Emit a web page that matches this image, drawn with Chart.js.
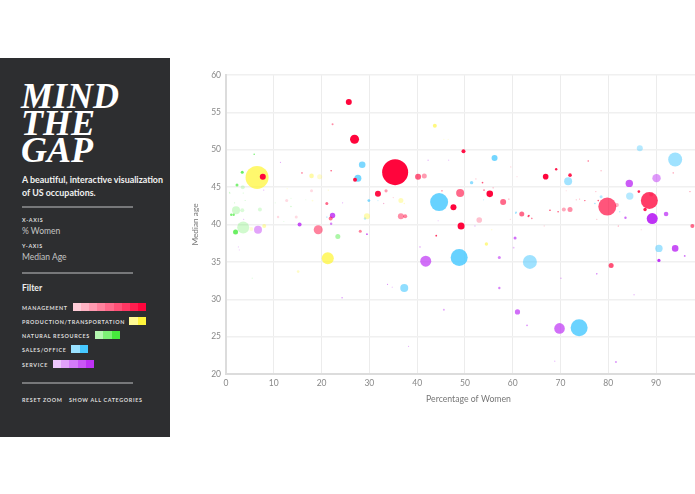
<!DOCTYPE html>
<html>
<head>
<meta charset="utf-8">
<title>Mind the Gap</title>
<script src="https://cdn.jsdelivr.net/npm/chart.js@4"></script>
<style>
html, body { margin: 0; padding: 0; width: 695px; height: 494px; overflow: hidden; background: #fff; font-family: Lato, sans-serif; }
#side { position: absolute; left: 0; top: 58px; width: 170px; height: 379px; background: #2d2e30; color: #fff; }
#side div { position: absolute; white-space: nowrap; }
.mast { left: 21px; font: italic 700 36px/27px "Liberation Serif", serif; }
.sub { left: 22px; font-size: 8.9px; font-weight: 700; color: #f2f2f2; line-height: 13px; }
.rule { left: 22px; width: 111px; height: 1.5px; background: #77787a; }
.cap { left: 22px; font-size: 5.4px; font-weight: 700; letter-spacing: 0.65px; color: #ddd; line-height: 8px; }
.val { left: 22px; font-size: 8.5px; font-weight: 400; color: #c4c4c4; line-height: 12px; }
.filter { left: 22px; font-size: 8.6px; font-weight: 700; color: #eee; line-height: 13px; }
.swatch { height: 8px; display: flex; background: #fff; }
.swatch span { flex: 1; }
#chartWrap { position: absolute; left: 190px; top: 60px; width: 521px; height: 355px; }
</style>
</head>
<body>
<div id="side"></div>
<div id="chartWrap"><canvas id="gapChart" width="521" height="355"></canvas></div>
<script>
// category names and the colour ramp used for each
const categoryNames = ['Management', 'Production/Transportation', 'Natural Resources', 'Sales/Office', 'Service'];
const categoryRgb = ['255,5,60', '255,245,60', '70,235,60', '70,200,255', '190,50,245'];
const swatchSteps = [9, 2, 3, 2, 5];

const xTickValues = [0, 10, 20, 30, 40, 50, 60, 70, 80, 90];
const yTickValues = [20, 25, 30, 35, 40, 45, 50, 55, 60];

// [% women, median age, size, shade]
const managementPoints = [
  [25.7,56.4,3,1],[26.9,51.4,4.5,1],[35.4,47,13,1],[37.4,47.2,3,.3],[7.7,46.4,3,1],[27,46,2,.95],[31.8,44.1,3,.95],
  [40.2,46.4,3,.65],[41.5,46.5,2.5,.4],[49.7,49.8,2,.95],[47.6,42.3,3,1],[49,44.2,4,.6],[55.2,44.1,3.3,1],[58,43,3,.6],
  [49.2,39.8,3.5,1],[53,40.6,2.8,.25],[36.6,41.1,3,.45],[37.5,41.1,2,.5],[33.5,44.5,1.6,.4],[28.1,39.1,1.5,.5],
  [61.9,41.4,2.5,.6],[66.9,46.4,2.8,1],[69.1,47.4,1.2,.9],[72,46.6,1.8,.9],[75.8,48.5,.7,.7],[79.8,42.4,9,.68],
  [81.8,42.6,2,.3],[88.6,43.2,8.5,.78],[89,44,2,.3],[87.7,42,1.7,.9],[86.4,44.4,1.3,.9],[70.7,42,2,.35],[72,42,2.5,.45],
  [97.6,39.8,2,.6],[67.8,41.9,.8,.8],[69.5,41.7,.8,.7],[63.4,41.2,.8,.7],[75.1,43.2,.7,.7],[77.9,43.2,.8,.7],
  [80.6,34.5,2.5,.7],[93.6,46.9,.8,.3],[97.1,44.4,.6,.5],[21.1,42.8,1.5,.6],[21.9,40.8,2,.55],[19.3,39.3,4.5,.5],
  [15.9,46.9,.7,.8],[22,47.2,.7,.8],[44,38.5,.9,.8],[63.3,41.1,1,.7],[64,40.8,.8,.5],[53.7,45.6,.8,.6],[54,44.6,.9,.5],
  [45.2,44.5,.7,.7],[22.3,53.4,1,.45],[12.7,43.2,1.5,.15],[17.9,44.5,1.5,.15],[14.7,41,1.5,.15],[10.9,41,1.2,.15],
  [52.3,46.1,.6,.25],[53.6,45.6,.6,.3],[55.9,44.9,.6,.4],[59.6,47.7,.6,.2],[60.9,46.4,.6,.15],[59.2,43.4,.7,.4],
  [59.5,40.7,.6,.2],[73.3,43.3,.6,.3],[74,43.4,.6,.3],[77.4,44.4,.6,.3],[78.5,47.2,.8,.25],[71.2,44.5,.5,.2],
  [77.6,40.7,.6,.3],[82.1,39.8,.6,.5],[66.6,39.8,.7,.15],[64,40.9,.5,.2],[86.9,39.3,.6,.2],[33,42.8,.7,.2],[35,43.6,.6,.2]
];

const productionPoints = [
  [6.5,46.3,11.5,.75],[21.3,35.5,6,.75],[43.7,53.2,2,.65],[17.9,46.5,2.3,.45],[19.6,46.4,2.5,.25],[8,39.8,2,.4],
  [36.6,43.2,2.5,.35],[29.5,41.1,3,.4],[54.5,37.4,1.7,.6],[15.1,33.7,1.3,.3],[5.3,39.4,2,.2],[18.1,43.2,.9,.2],
  [37.3,42.8,.7,.3],[55.6,39.3,.8,.2],[45.6,51.4,.6,.2],[46.5,51.4,.6,.2],[21.4,44.6,.6,.3],[12.8,44.8,.6,.2]
];

const naturalPoints = [
  [5.9,49.4,.8,.7],[3.4,47,1.5,.8],[2.3,45.3,1.5,.7],[3.5,45,2,.2],[2.1,41.9,4,.25],[3.4,41.9,2,.2],[7.1,42,2,.2],
  [1.1,41.3,1.2,.7],[1.6,41.3,1.2,.7],[3.6,39.6,6,.25],[2,39,2.5,.8],[23.4,38.4,2.5,.45],[.8,44.2,.7,.3],
  [3.6,44.2,.5,.3],[.7,44.3,.5,.3],[4,43.2,.5,.3],[1.8,42.9,.6,.25],[10.3,42.9,.6,.15],[13.6,42.4,.8,.25],
  [13.6,43.5,.5,.2],[16.7,43.3,.5,.15],[12.1,40.4,.6,.15],[5.5,32.8,.7,.15]
];

const salesPoints = [
  [28.5,48,3.3,.7],[27.6,46.2,3.5,.75],[44.6,43,9,.82],[56.2,48.9,3,.75],[51.4,45.6,1.7,.6],[29.9,43.2,1.4,.7],
  [71.6,45.8,4,.5],[86.6,50.2,3,.4],[94,48.7,7,.52],[84.5,43.8,3.7,.4],[78.5,43.7,1.5,.4],[48.8,35.6,8.5,.82],
  [37.3,31.5,4,.6],[63.6,35,7,.52],[73.9,26.2,8.5,.8],[90.6,36.8,3.7,.5],[29.1,40.8,1.2,.4],[60.7,41.6,1,.5],
  [77.2,42.8,.8,.5],[21.1,41,.9,.3],[82.4,41.7,.7,.4],[60.6,41.5,.6,.4],[53.9,43.3,.6,.3],[31.8,43.2,.6,.3]
];

const servicePoints = [
  [84.4,45.5,3.7,.8],[90.1,46.2,4.2,.5],[89.2,40.8,5.5,1],[92.1,41.4,2.3,.75],[83.6,40.9,1.2,.7],[94,36.8,3.3,.85],
  [90.6,35.2,1.6,1],[96,35.8,.9,.7],[69.8,26.1,5.3,.7],[61,28.3,2.6,.7],[41.8,35.1,5.5,.7],[57.2,35.6,1.5,.6],
  [57.2,31.5,1.2,.6],[60.5,38.2,1.5,.7],[45.6,28.6,1,.4],[6.7,39.3,4,.45],[22.3,41.2,2.7,.85],[15.4,40,2,.85],
  [22,40.1,1.2,.6],[29.5,38.7,.9,.8],[63,26.5,.8,.6],[77.6,33.4,.8,.6],[70.1,32.8,.7,.4],[81.6,21.6,1,.5],
  [85.4,30.6,.8,.3],[68.8,21.7,.7,.3],[38.2,23.7,.6,.4],[24.3,30.2,.8,.5],[42.3,48.6,.8,.3],[46.6,48.6,.6,.3],
  [40.6,37,.9,.3],[60.2,36.9,.9,.3],[33.8,32,.6,.6],[34.8,31.6,.8,.2],[11.4,48.3,.6,.4],[7.9,44.6,.6,.4],
  [24.4,42.9,.6,.4],[3.7,40.7,.6,.4],[2.6,37,.6,.25],[2.8,36.6,.6,.2],[33,42.8,.5,.25],[44.4,40.5,.6,.3],[52.1,39.8,.7,.35]
];

const seriesPoints = [managementPoints, productionPoints, naturalPoints, salesPoints, servicePoints];

// --- sidebar ---
function addText(cls, left, top, html) {
  const el = document.createElement('div');
  el.className = cls;
  if (left !== null) el.style.left = left + 'px';
  el.style.top = (top - 58) + 'px';
  el.innerHTML = html;
  document.getElementById('side').appendChild(el);
  return el;
}

addText('mast', null, 83, 'MIND');
addText('mast', null, 110, 'THE');
addText('mast', null, 137, 'GAP');
addText('sub', null, 173, 'A beautiful, interactive visualization<br>of US occupations.');
addText('rule', null, 206, '');
addText('cap', null, 216, 'X-AXIS');
addText('val', null, 225, '% Women');
addText('cap', null, 242, 'Y-AXIS');
addText('val', null, 251, 'Median Age');
addText('rule', null, 272, '');
addText('filter', null, 282, 'Filter');
addText('rule', null, 382, '');
addText('cap', 22, 396, 'RESET ZOOM');
addText('cap', 69, 396, 'SHOW ALL CATEGORIES');

const swatchLeft = [73, 129, 95, 71, 53];
const swatchRight = [146, 146, 120, 88, 94];
const rowTop = [303, 317, 331, 345, 360];
categoryNames.forEach((name, i) => {
  addText('cap', 22, rowTop[i] + 0.5, name.toUpperCase());
  const sw = addText('swatch', swatchLeft[i], rowTop[i], '');
  sw.style.width = (swatchRight[i] - swatchLeft[i]) + 'px';
  for (let s = 0; s < swatchSteps[i]; s++) {
    const seg = document.createElement('span');
    seg.style.background = 'rgba(' + categoryRgb[i] + ',' + (0.1 + 0.9 * (s + 1) / swatchSteps[i]) + ')';
    sw.appendChild(seg);
  }
});

// --- chart ---
new Chart(document.getElementById('gapChart'), {
  type: 'bubble',
  data: {
    datasets: seriesPoints.map((pts, i) => ({
      label: categoryNames[i],
      data: pts.map(p => ({ x: p[0], y: p[1], r: p[2], shade: p[3] })),
      borderWidth: 0,
      backgroundColor: ctx => 'rgba(' + categoryRgb[i] + ',' + (ctx.raw ? ctx.raw.shade : 1) + ')'
    }))
  },
  options: {
    responsive: false,
    animation: false,
    events: [],
    layout: { autoPadding: false, padding: { top: 15, right: 0, left: 0, bottom: 0 } },
    plugins: { legend: { display: false }, tooltip: { enabled: false } },
    scales: {
      x: {
        type: 'linear', min: 0, max: 101.5,
        afterBuildTicks: s => { s.ticks = xTickValues.map(v => ({ value: v })); },
        afterFit: s => { s.height = 41; s.paddingLeft = 0; s.paddingRight = 0; },
        grid: { color: '#ececec', drawTicks: false },
        border: { color: '#dcdcdc', width: 2 },
        ticks: { color: '#888', padding: 4, maxRotation: 0, autoSkip: false, font: { family: 'Lato', size: 8.5 } },
        title: { display: true, text: 'Percentage of Women', color: '#777', padding: { top: 5, bottom: 11 }, font: { family: 'Lato', size: 8.7 } }
      },
      y: {
        type: 'linear', min: 20, max: 60,
        afterBuildTicks: s => { s.ticks = yTickValues.map(v => ({ value: v })); },
        afterFit: s => { s.width = 36; s.paddingTop = 0; s.paddingBottom = 0; },
        grid: { color: '#f0f0f0', lineWidth: 1.5, drawTicks: false },
        border: { color: '#dcdcdc', width: 2 },
        ticks: { color: '#888', padding: 5, font: { family: 'Lato', size: 8.5 } },
        title: { display: true, text: 'Median age', color: '#777', padding: 0, font: { family: 'Lato', size: 8.3 } }
      }
    }
  }
});
</script>
</body>
</html>
